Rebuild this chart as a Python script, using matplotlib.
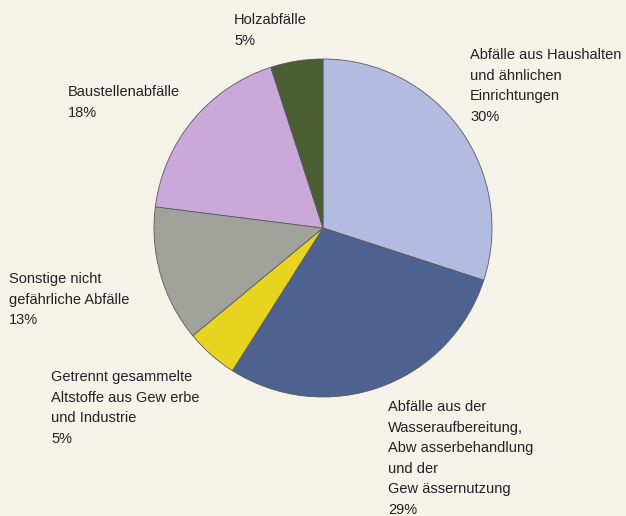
import matplotlib.pyplot as plt

# Abfallaufkommen nach Herkunft (Anteile in %)
kategorien = [
    "Abfälle aus Haushalten\nund ähnlichen\nEinrichtungen",
    "Abfälle aus der\nWasseraufbereitung,\nAbw asserbehandlung\nund der\nGew ässernutzung",
    "Getrennt gesammelte\nAltstoffe aus Gew erbe\nund Industrie",
    "Sonstige nicht\ngefährliche Abfälle",
    "Baustellenabfälle",
    "Holzabfälle",
]
anteile = [30, 29, 5, 13, 18, 5]
farben = ["#b3bbe0", "#4d6290", "#e8d420", "#a2a29c", "#cba8da", "#4a5d33"]

# Textpositionen (linke obere Ecke, in Pixel des Bildes)
text_pos = [(470, 48), (388, 400), (51, 370), (9, 272), (68, 85), (234, 13)]

W, H = 626, 516
fig = plt.figure(figsize=(W / 100, H / 100), dpi=100)
fig.patch.set_facecolor("#f5f2ea")
plt.rcParams["font.family"] = ["Liberation Sans", "DejaVu Sans"]

# Kreis: Mittelpunkt (323, 228), Radius 169 px
cx, cy, r = 323, 228, 169
ax = fig.add_axes([(cx - r) / W, (H - cy - r) / H, 2 * r / W, 2 * r / H])
ax.pie(anteile, colors=farben, startangle=90, counterclock=False,
       wedgeprops=dict(edgecolor="#5a5a5a", linewidth=0.6))
ax.set_xlim(-1, 1)
ax.set_ylim(-1, 1)
ax.set_aspect("equal")
ax.axis("off")

for name, wert, (x, y) in zip(kategorien, anteile, text_pos):
    fig.text(x / W, 1 - y / H, f"{name}\n{wert}%", ha="left", va="top",
             fontsize=10.5, color="#222222", linespacing=1.6)

plt.savefig("out.png", dpi=100, facecolor=fig.get_facecolor())
